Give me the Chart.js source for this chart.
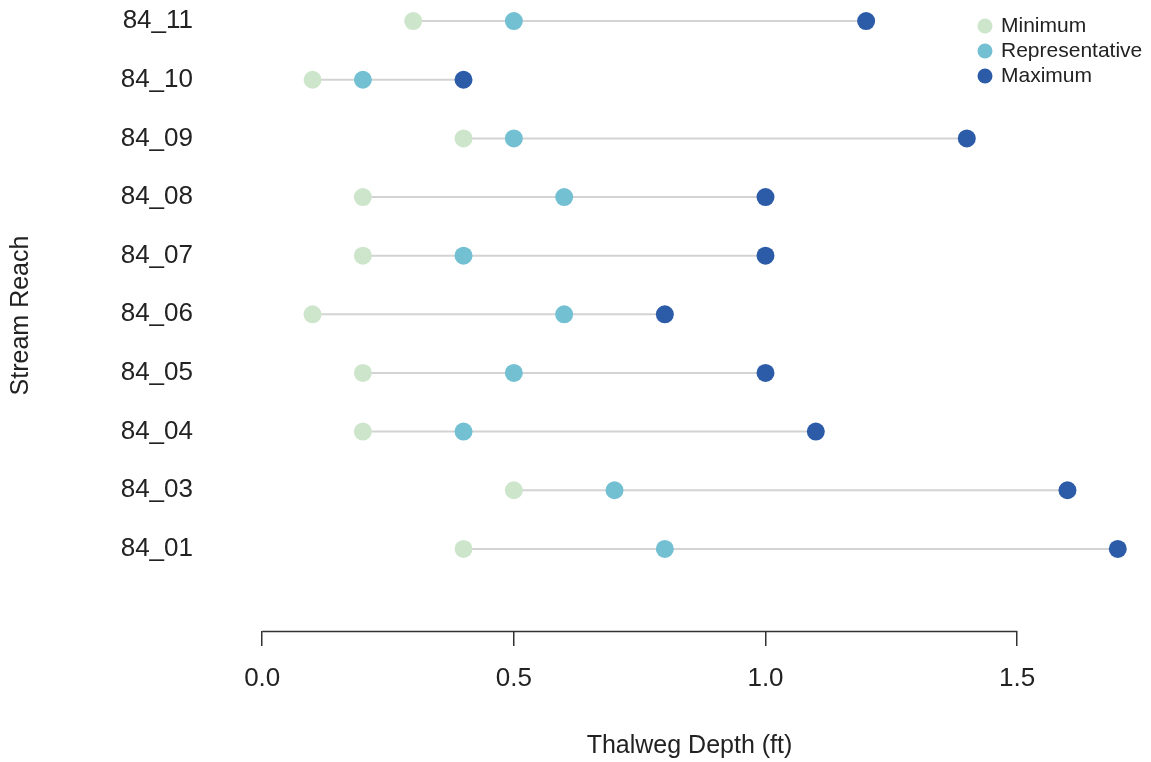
<!DOCTYPE html>
<html>
<head>
<meta charset="utf-8">
<script src="https://cdn.jsdelivr.net/npm/chart.js@4"></script>
<style>
  html, body { margin: 0; padding: 0; background: #fff; }
  #wrap { width: 1151px; height: 762px; }
</style>
</head>
<body>
<div id="wrap"><canvas id="chart"></canvas></div>
<script>
// bottom to top, as plotted
const reaches = ['84_01', '84_03', '84_04', '84_05', '84_06', '84_07', '84_08', '84_09', '84_10', '84_11'];
const minDepth = [0.4, 0.5, 0.2, 0.2, 0.1, 0.2, 0.2, 0.4, 0.1, 0.3];
const repDepth = [0.8, 0.7, 0.4, 0.5, 0.6, 0.4, 0.6, 0.5, 0.2, 0.5];
const maxDepth = [1.7, 1.6, 1.1, 1.0, 0.8, 1.0, 1.0, 1.4, 0.4, 1.2];
const xTicks = [0, 0.5, 1.0, 1.5];

const FONT = "'Liberation Sans', Arial, sans-serif";
const colMin = '#cde6cb', colRep = '#73c0d3', colMax = '#2c5ba8';

const pts = vals => vals.map((v, i) => ({ x: v, y: i + 1 }));

function pointSet(label, vals, color) {
  return {
    label, data: pts(vals), type: 'scatter',
    backgroundColor: color, borderColor: color,
    pointRadius: 9, pointHoverRadius: 9, borderWidth: 0
  };
}

const rangeLines = reaches.map((r, i) => ({
  label: r, type: 'line',
  data: [{ x: minDepth[i], y: i + 1 }, { x: maxDepth[i], y: i + 1 }],
  borderColor: '#d3d3d3', borderWidth: 2, pointRadius: 0, legendSkip: true
}));

// axis line only across the tick range, like R's axis()
const axisLine = {
  id: 'axisLine',
  afterDraw(chart) {
    const { ctx, chartArea, scales } = chart;
    const x0 = scales.x.getPixelForValue(xTicks[0]);
    const x1 = scales.x.getPixelForValue(xTicks[xTicks.length - 1]);
    ctx.save();
    ctx.strokeStyle = '#333';
    ctx.lineWidth = 1.5;
    ctx.beginPath();
    ctx.moveTo(x0, chartArea.bottom + 0.5);
    ctx.lineTo(x1, chartArea.bottom + 0.5);
    ctx.stroke();
    ctx.restore();
  }
};

const dotLegend = {
  id: 'dotLegend',
  afterDraw(chart) {
    const ctx = chart.ctx;
    const items = chart.data.datasets.filter(d => !d.legendSkip);
    ctx.save();
    ctx.font = '21px ' + FONT;
    ctx.textBaseline = 'middle';
    ctx.textAlign = 'left';
    items.forEach((d, i) => {
      const y = 26 + i * 25;
      ctx.fillStyle = d.backgroundColor;
      ctx.beginPath();
      ctx.arc(985, y, 7.5, 0, Math.PI * 2);
      ctx.fill();
      ctx.fillStyle = '#222';
      ctx.fillText(d.label, 1001, y);
    });
    ctx.restore();
  }
};

function noPad(s) {
  s.paddingTop = 0; s.paddingBottom = 0; s.paddingLeft = 0; s.paddingRight = 0;
}

new Chart(document.getElementById('chart'), {
  type: 'scatter',
  data: {
    datasets: [
      pointSet('Minimum', minDepth, colMin),
      pointSet('Representative', repDepth, colRep),
      pointSet('Maximum', maxDepth, colMax),
      ...rangeLines
    ]
  },
  options: {
    responsive: true,
    maintainAspectRatio: false,
    animation: false,
    layout: { padding: 0, autoPadding: false },
    plugins: { legend: { display: false }, tooltip: { enabled: false } },
    scales: {
      x: {
        type: 'linear', min: -0.068, max: 1.766,
        afterBuildTicks: s => { s.ticks = xTicks.map(v => ({ value: v })); },
        afterFit: s => { s.height = 131; noPad(s); },
        border: { display: false },
        grid: { drawOnChartArea: false, drawTicks: true, tickLength: 15, color: '#333', lineWidth: 1.5 },
        ticks: { padding: 17, color: '#222', font: { family: FONT, size: 26 }, callback: v => v.toFixed(1) },
        title: { display: true, text: 'Thalweg Depth (ft)', color: '#222', font: { family: FONT, size: 25 }, padding: { top: 0, bottom: 1 } }
      },
      y: {
        type: 'linear', min: -0.4, max: 10.36,
        afterBuildTicks: s => { s.ticks = reaches.map((r, i) => ({ value: i + 1 })); },
        afterFit: s => { s.width = 228; noPad(s); },
        border: { display: false },
        grid: { display: false },
        ticks: { padding: 27, color: '#222', font: { family: FONT, size: 26 }, callback: v => reaches[v - 1] },
        title: { display: true, text: 'Stream Reach', color: '#222', font: { family: FONT, size: 25 }, padding: { top: 6, bottom: 0 } }
      }
    }
  },
  plugins: [axisLine, dotLegend]
});
</script>
</body>
</html>
